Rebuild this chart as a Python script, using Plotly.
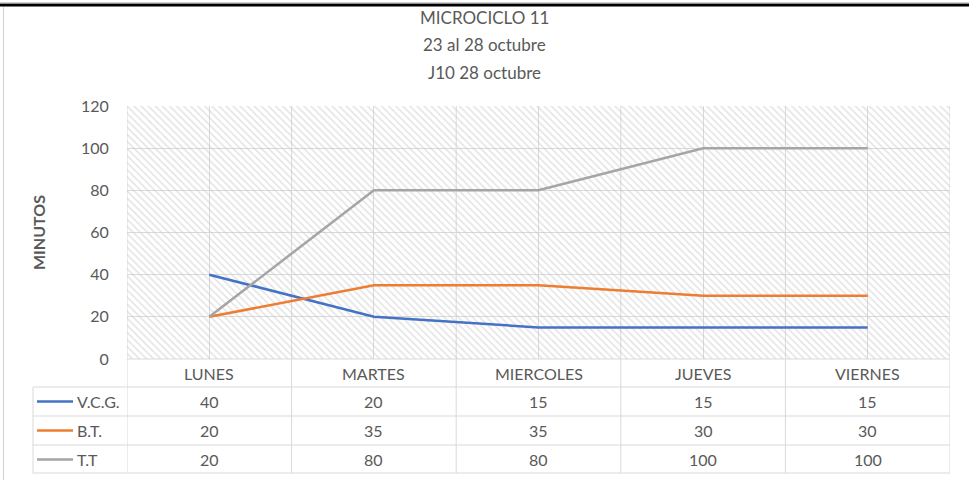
import plotly.graph_objects as go

categories = ["LUNES", "MARTES", "MIERCOLES", "JUEVES", "VIERNES"]
series_names = ["V.C.G.", "B.T.", "T.T"]
vcg = [40, 20, 15, 15, 15]
bt = [20, 35, 35, 30, 30]
tt = [20, 80, 80, 100, 100]
title_lines = ["MICROCICLO 11", "23 al 28 octubre", "J10 28 octubre"]
y_title = "MINUTOS"
y_ticks = [0, 20, 40, 60, 80, 100, 120]

colors = ["#4472C4", "#ED7D31", "#A5A5A5"]
series = [vcg, bt, tt]

W, H = 969, 480
L, R, T, B = 127, 19, 106, 121
PW = W - L - R
PH = H - T - B
FONT = "Lato"
TXT = "#595959"
GRID = "#d9d9d9"


def px(x):
    return (x - L) / PW


def py(y):
    return (H - B - y) / PH


n = len(categories)
xi = list(range(n))

fig = go.Figure()

# hatched plot background
fig.add_trace(go.Scatter(
    x=[-0.5, n - 0.5, n - 0.5, -0.5, -0.5],
    y=[0, 0, 120, 120, 0],
    fill="toself", mode="none", hoverinfo="skip", showlegend=False,
    fillcolor="rgba(0,0,0,0)",
    fillpattern=dict(shape="\\", fgcolor="#c8c8c8", bgcolor="rgba(0,0,0,0)",
                     size=5, solidity=0.3),
))

for name, vals, col in zip(series_names, series, colors):
    fig.add_trace(go.Scatter(
        x=xi, y=vals, mode="lines", name=name,
        line=dict(color=col, width=2.5), showlegend=False,
    ))

shapes = []
line_style = dict(color=GRID, width=1)
# vertical boundaries through plot and table
for k in range(n + 1):
    shapes.append(dict(type="line", xref="x", yref="paper", x0=k - 0.5, x1=k - 0.5,
                       y0=1, y1=py(473), line=line_style, layer="below"))
# table horizontal lines
for yy in [387, 416, 445, 473]:
    shapes.append(dict(type="line", xref="paper", yref="paper", x0=px(33), x1=1,
                       y0=py(yy), y1=py(yy), line=line_style))
shapes.append(dict(type="line", xref="paper", yref="paper", x0=0, x1=1,
                   y0=0, y1=0, line=line_style))
shapes.append(dict(type="line", xref="paper", yref="paper", x0=px(33), x1=px(33),
                   y0=py(387), y1=py(473), line=line_style))
# frame decorations (top black bar, left gray line)
shapes.append(dict(type="rect", xref="paper", yref="paper", x0=px(0), x1=px(W),
                   y0=py(6.5), y1=py(3.5), fillcolor="black", line=dict(width=0)))
shapes.append(dict(type="line", xref="paper", yref="paper", x0=px(0), x1=px(W),
                   y0=py(3), y1=py(3), line=dict(color="#a0a0a0", width=1)))
shapes.append(dict(type="line", xref="paper", yref="paper", x0=px(3.5), x1=px(3.5),
                   y0=py(7), y1=py(H), line=dict(color="#d0d0d0", width=1)))

row_y = [401.5, 430.5, 459.5]
for name, col, ry in zip(series_names, colors, row_y):
    shapes.append(dict(type="line", xref="paper", yref="paper", x0=px(37), x1=px(73),
                       y0=py(ry), y1=py(ry), line=dict(color=col, width=2.5)))

annotations = []
for i, tl in enumerate(title_lines):
    annotations.append(dict(text=tl, xref="paper", yref="paper", x=px(484), y=py(17 + 27.5 * i),
                            showarrow=False, xanchor="center", yanchor="middle",
                            font=dict(family=FONT, size=17, color=TXT)))
annotations.append(dict(text="<b>" + y_title + "</b>", xref="paper", yref="paper",
                        x=px(38), y=py(233), textangle=-90, showarrow=False,
                        xanchor="center", yanchor="middle",
                        font=dict(family=FONT, size=16, color=TXT)))
for i, c in enumerate(categories):
    annotations.append(dict(text=c, xref="x", yref="paper", x=i, y=py(373),
                            showarrow=False, xanchor="center", yanchor="middle",
                            font=dict(family=FONT, size=16, color=TXT)))
for name, vals, ry in zip(series_names, series, row_y):
    annotations.append(dict(text=name, xref="paper", yref="paper", x=px(75), y=py(ry),
                            showarrow=False, xanchor="left", yanchor="middle",
                            font=dict(family=FONT, size=16, color=TXT)))
    for i, v in enumerate(vals):
        annotations.append(dict(text=str(v), xref="x", yref="paper", x=i, y=py(ry),
                                showarrow=False, xanchor="center", yanchor="middle",
                                font=dict(family=FONT, size=16, color=TXT)))

fig.update_layout(
    width=W, height=H,
    margin=dict(l=L, r=R, t=T, b=B, autoexpand=False),
    paper_bgcolor="white", plot_bgcolor="white",
    showlegend=False,
    shapes=shapes, annotations=annotations,
    xaxis=dict(range=[-0.5, n - 0.5], tickvals=xi, showticklabels=False,
               showgrid=True, gridcolor=GRID, gridwidth=1, zeroline=False,
               showline=False, fixedrange=True, automargin=False),
    yaxis=dict(range=[0, 120], tickvals=y_ticks, showgrid=True, gridcolor=GRID,
               gridwidth=1, zeroline=False, showline=False,
               ticks="outside", ticklen=14, tickcolor="rgba(0,0,0,0)",
               tickfont=dict(family=FONT, size=16, color=TXT), fixedrange=True,
               automargin=False),
)

fig.write_html("out.html", config={"displayModeBar": False},
               post_script="document.body.style.margin='0';document.body.style.overflow='hidden';")
